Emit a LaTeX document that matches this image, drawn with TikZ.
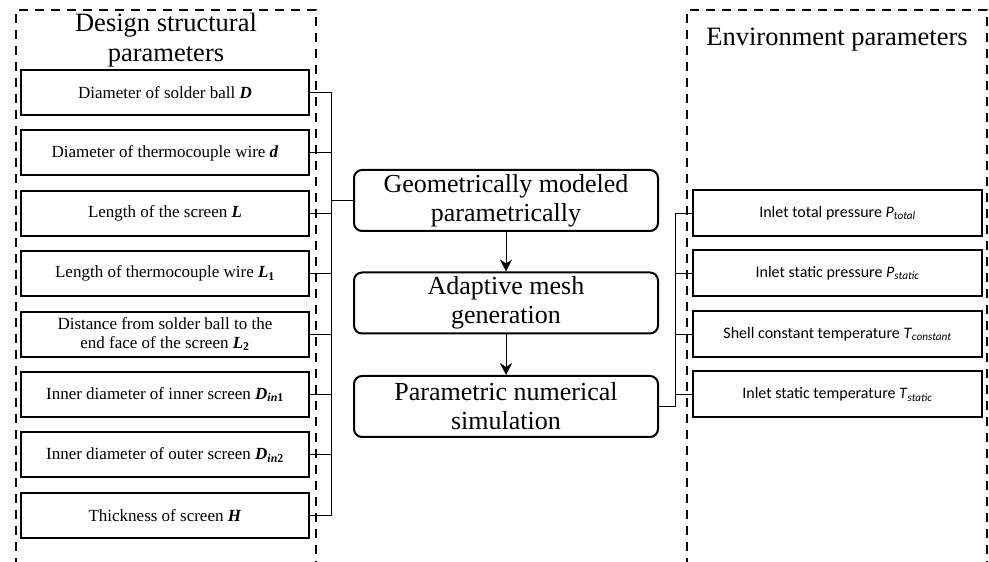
\documentclass[tikz,border=0pt]{standalone}
\usepackage{fontspec}
\newfontfamily\calib{Carlito}
\newfontfamily\pal{Liberation Serif}
\usetikzlibrary{positioning, arrows.meta, calc}

\begin{document}
\begin{tikzpicture}[x=1pt, y=1pt,
		wire/.style={draw=black, line width=0.9pt},
		pbox/.style={draw=black, line width=2pt, minimum width=288pt, minimum height=45pt, inner sep=2pt, align=center, font=\pal\fontsize{17}{19}\selectfont},
		ebox/.style={pbox, minimum width=289pt, minimum height=46pt, font=\calib\fontsize{16}{18}\selectfont},
		procbox/.style={draw=black, line width=2pt, rounded corners=8pt, minimum width=304pt, minimum height=61pt, inner sep=1pt, align=center, font=\pal\fontsize{26}{29}\selectfont},
		frame/.style={draw=black, line width=2.2pt, dash pattern=on 9pt off 7pt},
		title/.style={align=center, font=\pal\fontsize{26.5}{30}\selectfont},
		>={Stealth[length=12pt, width=12pt, inset=4pt]}]
		
		\useasboundingbox (0,0) rectangle (989,562);
		
		\draw[frame] (16,-5) -- (16,552) -- (316,552) -- (316,-5);
		\draw[frame] (687,-5) -- (687,552) -- (987,552) -- (987,-5);
		
		\node[title] (dtitle) at (166,522) {Design structural\\parameters};
		\node[title] (etitle) at (837,522) {Environment parameters};
		
		\node[pbox] at (165,469.5) (pD)  {Diameter of solder ball \textbf{\textit{D}}};
		\node[pbox] at (165,409.1) (pd)  {Diameter of thermocouple wire \textbf{\textit{d}}};
		\node[pbox] at (165,348.7) (pL)  {Length of the screen \textbf{\textit{L}}};
		\node[pbox] at (165,288.3) (pLa) {Length of thermocouple wire \textbf{\textit{L}}\textsubscript{\textbf{1}}};
		\node[pbox] at (165,227.9) (pLb) {Distance from solder ball to the\\end face of the screen \textbf{\textit{L}}\textsubscript{\textbf{2}}};
		\node[pbox] at (165,167.5) (pDa) {Inner diameter of inner screen \textbf{\textit{D}}\textsubscript{\textbf{\textit{in}1}}};
		\node[pbox] at (165,107.1) (pDb) {Inner diameter of outer screen \textbf{\textit{D}}\textsubscript{\textbf{\textit{in}2}}};
		\node[pbox] at (165,46.7)  (pH)  {Thickness of screen \textbf{\textit{H}}};
		
		\node[procbox] at (506,361.5) (geo)  {Geometrically modeled\\parametrically};
		\node[procbox] at (506,259)   (mesh) {Adaptive mesh\\generation};
		\node[procbox] at (506,155.5) (sim)  {Parametric numerical\\simulation};
		
		\node[ebox] at (837.5,349)   (ePt) {Inlet total pressure \textit{P}\textsubscript{\textit{total}}};
		\node[ebox] at (837.5,289)   (ePs) {Inlet static pressure \textit{P}\textsubscript{\textit{static}}};
		\node[ebox] at (837.5,228)   (eTc) {Shell constant temperature \textit{T}\textsubscript{\textit{constant}}};
		\node[ebox] at (837.5,167.5) (eTs) {Inlet static temperature \textit{T}\textsubscript{\textit{static}}};
		
		\coordinate (lbus) at (331,361.5);
		\coordinate (rbus) at (675,155.5);
		
		\foreach \p in {pD,pd,pL,pLa,pLb,pDa,pDb,pH}
			\draw[wire] (\p.east) -| (lbus) -- (geo.west);
		\foreach \e in {ePt,ePs,eTc,eTs}
			\draw[wire] (sim.east) -- (rbus) |- (\e.west);
		
		\draw[wire, ->] (geo) -- (mesh);
		\draw[wire, ->] (mesh) -- (sim);
	\end{tikzpicture}
\end{document}
